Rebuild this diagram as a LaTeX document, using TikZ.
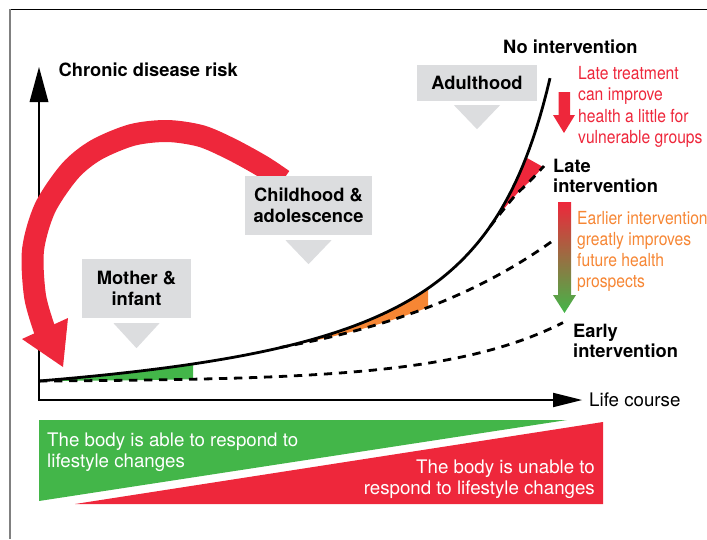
\documentclass[tikz,border=0pt]{standalone}
\usepackage{fontspec}
\setmainfont{TeX Gyre Heros}
\newfontfamily\narrowfont{TeX Gyre Heros}[FakeStretch=0.87]
\usetikzlibrary{calc}
\definecolor{dred}{RGB}{238,39,59}
\definecolor{dgreen}{RGB}{67,182,73}
\definecolor{dorange}{RGB}{246,134,52}
\definecolor{dgray}{RGB}{220,221,223}
\begin{document}
\begin{tikzpicture}[x=1pt,y=-1pt,
  boldlbl/.style={font=\fontsize{18.3}{20.7}\selectfont\bfseries, inner sep=0pt},
  bodytxt/.style={font=\fontsize{18.7}{21}\selectfont, inner sep=0pt},
  narrowtxt/.style={font=\narrowfont\fontsize{18}{21.5}\selectfont, inner sep=0pt},
  stagebox/.style={fill=dgray, inner sep=0pt, align=center, font=\fontsize{18.3}{20.7}\selectfont\bfseries},
  curve/.style={line width=2.8pt, black},
  dashcurve/.style={line width=2.8pt, black, dash pattern=on 8.3pt off 6.7pt},
  axisline/.style={line width=2.8pt, black}
]
\useasboundingbox (0,0) rectangle (707,539);
% frame
\draw[black, line width=0.8pt] (10,9) -- (707,9);
\draw[black!50, line width=1.8pt] (10,9) -- (10,539);

% bottom triangles
\fill[dgreen] (39,420) -- (567,420) -- (39,501) -- cycle;
\fill[dred] (75,504) -- (603,504) -- (603,422) -- cycle;
\node[bodytxt, text=white, anchor=base west] (able1) at (47,446) {The body is able to respond to};
\node[bodytxt, text=white, anchor=base west] (able2) at (47,467) {lifestyle changes};
\node[bodytxt, text=white, anchor=base east] (unable1) at (595,473) {The body is unable to};
\node[bodytxt, text=white, anchor=base east] (unable2) at (595,494) {respond to lifestyle changes};

% axes
\coordinate (ytop) at (39,102);
\coordinate (origin) at (39,400);
\coordinate (xend) at (553,400);
\draw[axisline] (ytop) -- (origin) -- (xend);
\fill ($(ytop)+(-9.5,0)$) -- ($(ytop)+(9.5,0)$) -- ($(ytop)+(0,-35)$) -- cycle;
\fill ($(xend)+(0,-7.3)$) -- ($(xend)+(0,7.3)$) -- ($(xend)+(29,0)$) -- cycle;
\node[boldlbl, anchor=base west] (ylab) at (58.5,76) {Chronic disease risk};
\node[bodytxt, anchor=base west] (xlab) at (589,406) {Life course};

% wedges between curves
\begin{scope}
\clip plot[domain=0:511, samples=150] ({39+\x}, {381-48.6*(\x/(593-\x))}) -- (707,78) -- (707,539) -- (39,539) -- cycle;
 \begin{scope}
 \clip (0,0) rectangle (193,539);
 \fill[dgreen] plot[domain=0:524, samples=100] ({39+\x}, {381-0.65*(exp(0.0086*\x)-1)}) -- (563,250) -- (39,250) -- cycle;
 \end{scope}
 \begin{scope}
 \clip (0,0) rectangle (428,539);
 \fill[dorange] plot[domain=0:272, samples=80] ({280+\x}, {347.5-36.6*(exp(0.005*\x)-1)}) -- (552,150) -- (280,150) -- cycle;
 \end{scope}
 \begin{scope}
 \clip (470,126) -- (560,176.5) -- (560,300) -- (470,300) -- cycle;
 \fill[dred] plot[smooth] coordinates {(490,226.6) (513,198) (530,181) (544,166)} -- (544,100) -- (470,100) -- (470,240) -- cycle;
 \end{scope}
\end{scope}

% curves
\draw[dashcurve] plot[domain=0:524, samples=100] ({39+\x}, {381-0.65*(exp(0.0086*\x)-1)});
\draw[dashcurve] plot[domain=0:272, samples=80] ({280+\x}, {347.5-36.6*(exp(0.005*\x)-1)});
\draw[dashcurve] plot[smooth] coordinates {(490,226.6) (513,198) (530,181) (544,166)};
\draw[curve] plot[domain=0:511, samples=150] ({39+\x}, {381-48.6*(\x/(593-\x))});

% big red curved arrow
\draw[dred, line width=22pt] plot[smooth] coordinates {(283,180) (262,166) (231,149) (201,136) (167,131) (132,135) (96,150) (70,171) (45,208) (33,250) (35,296) (44,328)} -- (47,338);
\fill[dred] (22,339) -- (68,318) -- (63,367) -- cycle;

% stage boxes
\node[stagebox, minimum width=109pt, minimum height=59pt] (mother) at (136.5,288.5) {Mother \&\\infant};
\fill[dgray] ($(mother.south)+(-23,5)$) -- ($(mother.south)+(23,5)$) -- ($(mother.south)+(0,30)$) -- cycle;
\node[stagebox, minimum width=127pt, minimum height=59pt] (child) at (308.5,205.5) {Childhood \&\\adolescence};
\fill[dgray] ($(child.south)+(-23,5)$) -- ($(child.south)+(23,5)$) -- ($(child.south)+(0,29)$) -- cycle;
\node[stagebox, minimum width=120pt, minimum height=36pt] (adult) at (477,83) {Adulthood};
\fill[dgray] ($(adult.south)+(-23,4)$) -- ($(adult.south)+(23,4)$) -- ($(adult.south)+(0,28)$) -- cycle;

% right labels
\node[boldlbl, anchor=base west] (noint) at (503,53) {No intervention};
\node[boldlbl, anchor=base west] (late1) at (553,172) {Late};
\node[boldlbl, anchor=base west] (late2) at (553,192) {intervention};
\node[boldlbl, anchor=base west] (early1) at (573,337) {Early};
\node[boldlbl, anchor=base west] (early2) at (573,357) {intervention};

\node[narrowtxt, text=dred, anchor=base west] (lt1) at (578,79) {Late treatment};
\node[narrowtxt, text=dred, anchor=base west] (lt2) at (578,100.5) {can improve};
\node[narrowtxt, text=dred, anchor=base west] (lt3) at (578,122) {health a little for};
\node[narrowtxt, text=dred, anchor=base west] (lt4) at (578,143.5) {vulnerable groups};

\node[narrowtxt, text=dorange, anchor=base west] (ei1) at (577,224) {Earlier intervention};
\node[narrowtxt, text=dorange, anchor=base west] (ei2) at (577,245) {greatly improves};
\node[narrowtxt, text=dorange, anchor=base west] (ei3) at (577,266) {future health};
\node[narrowtxt, text=dorange, anchor=base west] (ei4) at (577,287) {prospects};

% small arrows
\fill[dred] (558.5,92) -- (570,92) -- (570,115) -- (575,115) -- (564,133) -- (553,115) -- (558.5,115) -- cycle;
\shade[top color=dred, middle color=dorange, bottom color=dgreen] (558,202) -- (571,202) -- (571,295) -- (576,295) -- (564.5,313) -- (553,295) -- (558,295) -- cycle;
\end{tikzpicture}
\end{document}
